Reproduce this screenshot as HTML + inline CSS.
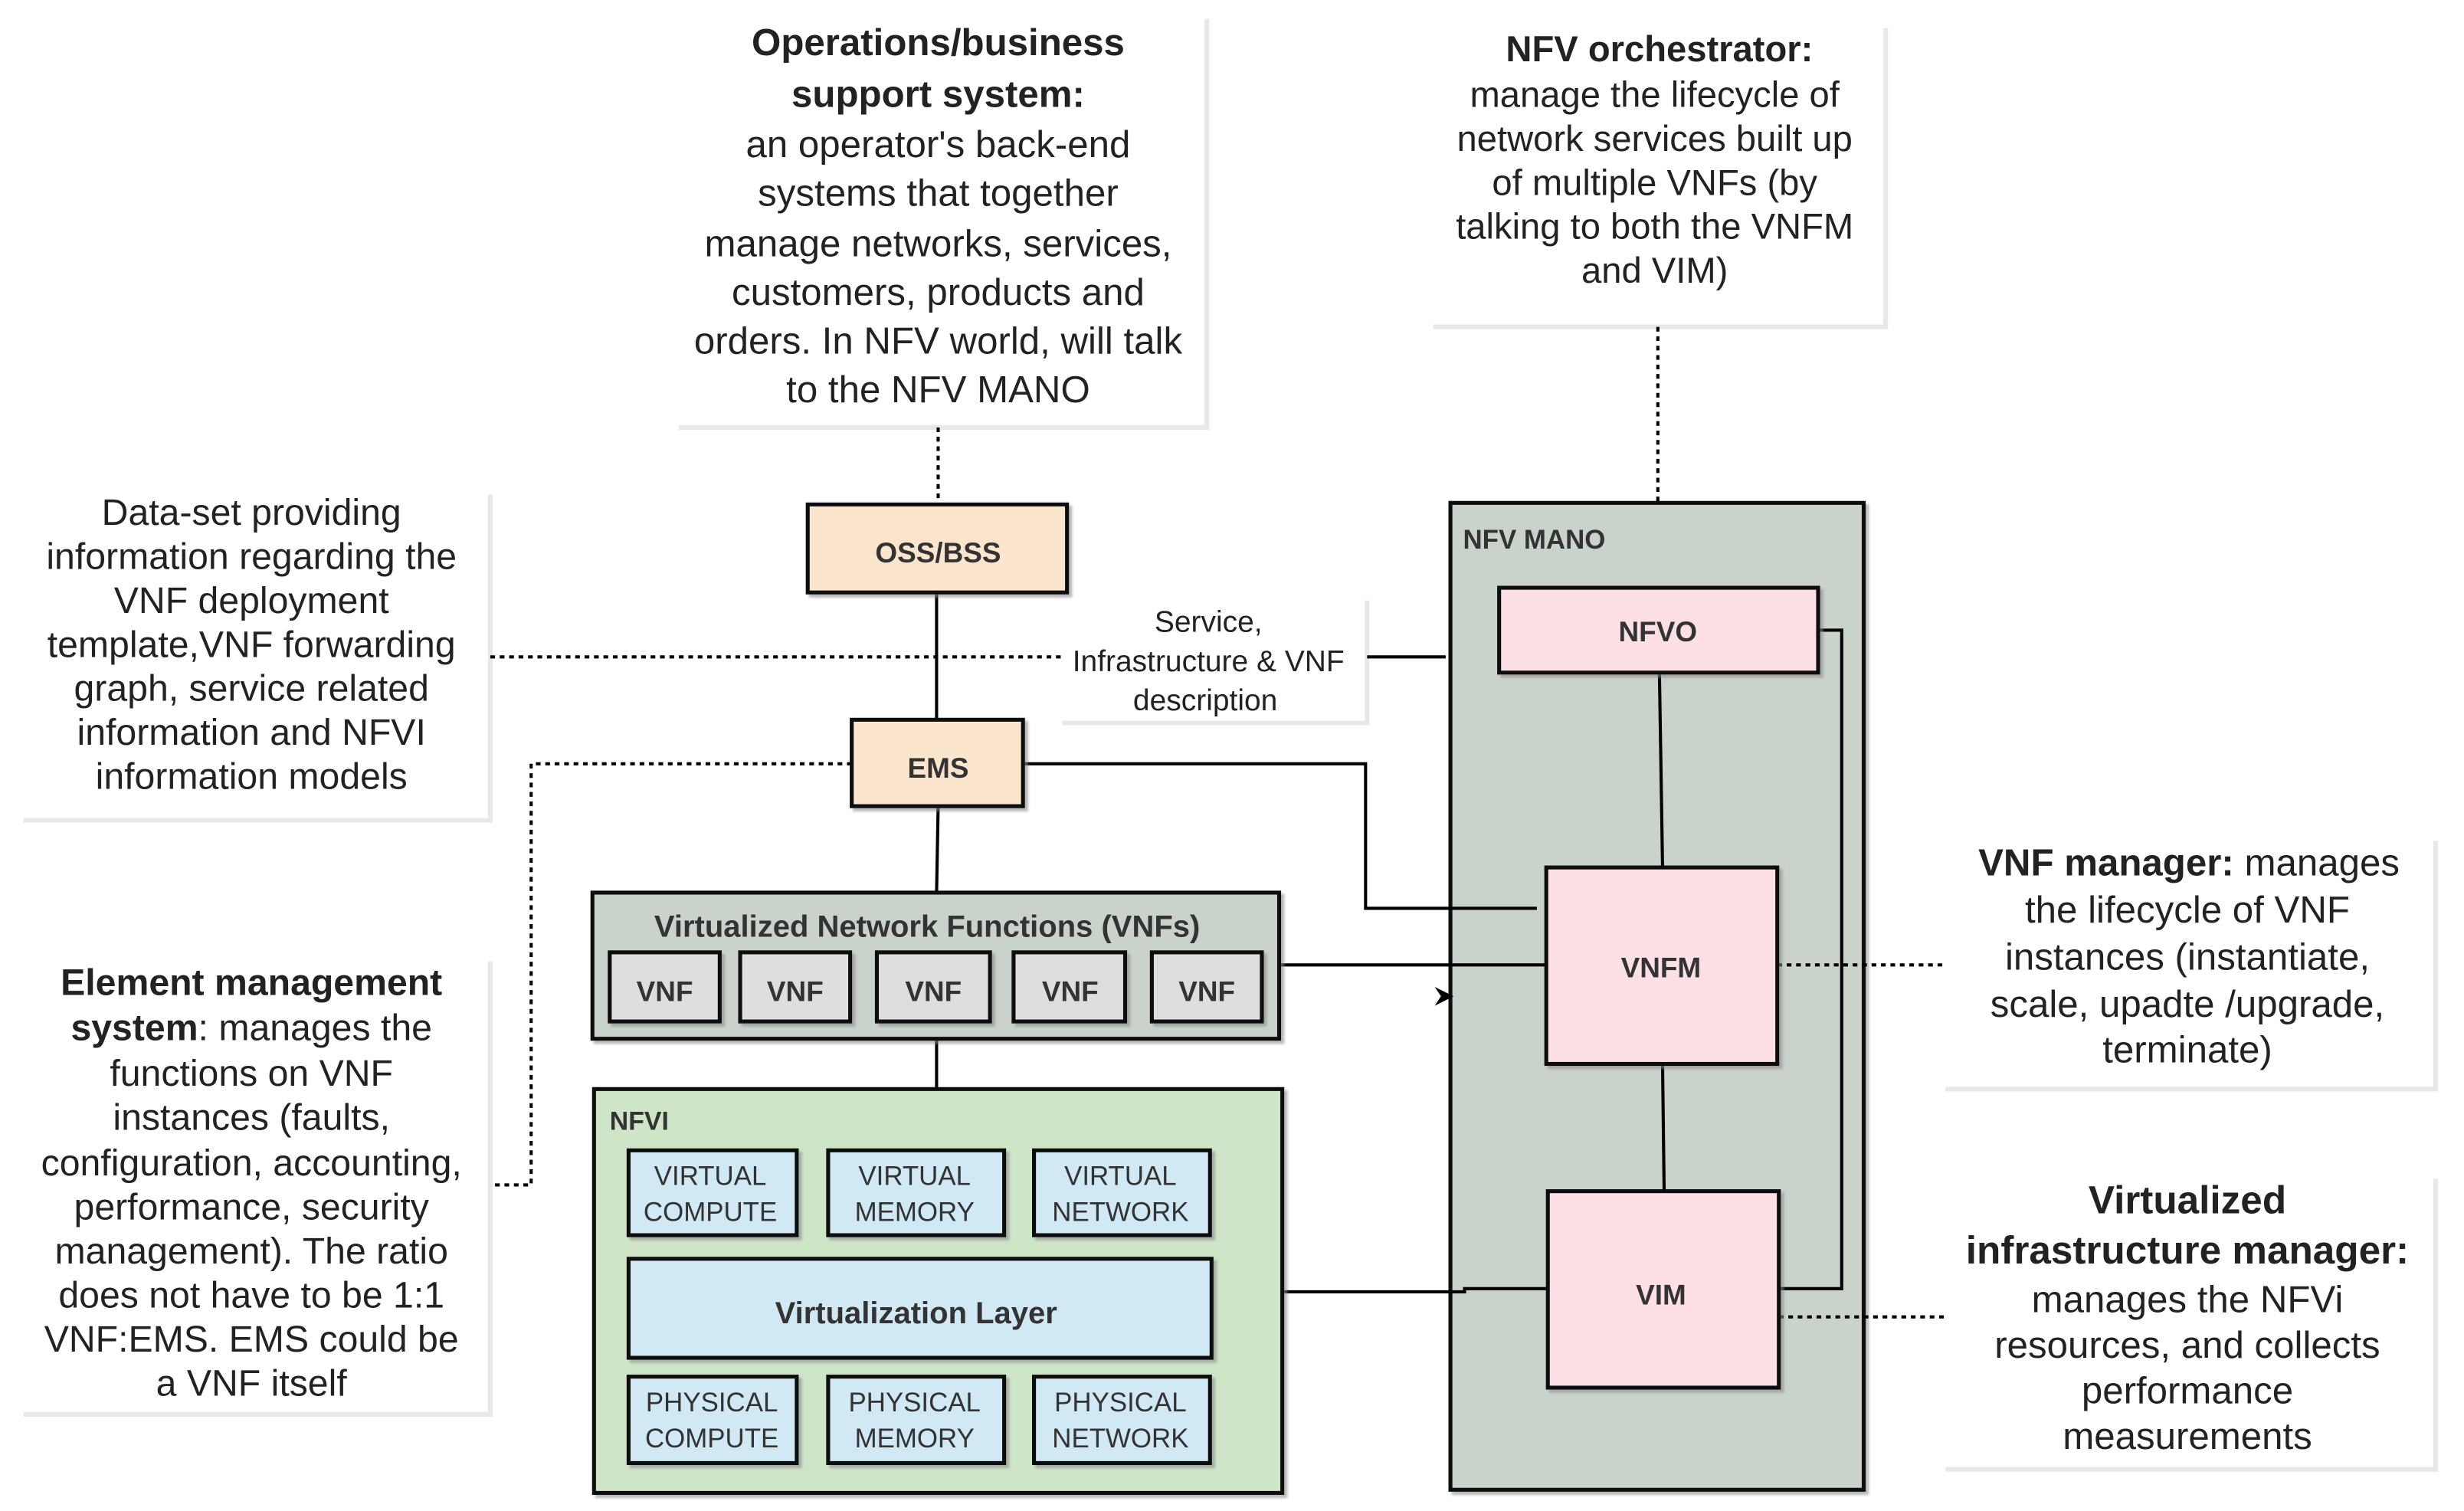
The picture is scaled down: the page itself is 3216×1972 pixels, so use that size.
<!DOCTYPE html>
<html><head><meta charset="utf-8"><style>html,body{margin:0;padding:0;background:#fff}svg{display:block}</style></head>
<body>
<svg xmlns="http://www.w3.org/2000/svg" width="3216" height="1972" viewBox="0 0 1568 961.5" font-family="'Liberation Sans', Arial, sans-serif" fill="#222">
<defs>
<filter id="sh" x="-5%" y="-5%" width="115%" height="115%"><feDropShadow dx="2" dy="2" stdDeviation="0.8" flood-color="#888" flood-opacity="0.6"/></filter>
</defs>
<g fill="none" stroke="#e8e8e8" stroke-width="3">
<path d="M768 12 V272 H432"/><path d="M1200 18 V208 H912"/><path d="M312 315 V522 H15"/>
<path d="M312 612 V900 H15"/><path d="M1550 535 V693 H1238"/><path d="M1550 750 V935 H1238"/><path d="M870 382 V460 H676"/>
</g>
<rect x="923" y="320" width="263" height="628" fill="#c9d3cc" stroke="#111" stroke-width="2.5" filter="url(#sh)"/>
<g fill="none" stroke="#000" stroke-width="2" stroke-dasharray="3,3">
<path d="M597 272 V321"/><path d="M312 418 H676"/><path d="M542 486 H338 V754 H312"/>
<path d="M1055 208 V320"/><path d="M1131 614 H1238"/><path d="M1132 838 H1238"/>
</g>
<g fill="none" stroke="#000" stroke-width="2">
<path d="M596 377 V458"/><path d="M870 418 H920"/><path d="M651 486 H869 V578 H978"/>
<path d="M597 513 L596 568"/><path d="M814 614 H984"/><path d="M596 661 V693"/>
<path d="M816 822 H932 V820 H985"/><path d="M1056 428 L1058 552"/><path d="M1058 677 L1059 758"/>
<path d="M1157 401 H1172 V820 H1132"/>
</g>
<path d="M913 628 L925 634 L913 640 L917 634 Z" fill="#000"/>
<g stroke="#111" stroke-width="2.5" filter="url(#sh)">
<rect x="514" y="321" width="165" height="56" fill="#fce5cd"/>
<rect x="542" y="458" width="109" height="55" fill="#fce5cd"/>
<rect x="377" y="568" width="437" height="93" fill="#c9d3cc"/>
<rect x="378" y="693" width="438" height="257" fill="#cfe5c8"/>
<rect x="954" y="374" width="203" height="54" fill="#fde0e6"/>
<rect x="984" y="552" width="147" height="125" fill="#fde0e6"/>
<rect x="985" y="758" width="147" height="125" fill="#fde0e6"/>
</g>
<g stroke="#111" stroke-width="2.5" fill="#dedede" filter="url(#sh)">
<rect x="388" y="606" width="70" height="44"/><rect x="471" y="606" width="70" height="44"/>
<rect x="558" y="606" width="72" height="44"/><rect x="645" y="606" width="71" height="44"/>
<rect x="733" y="606" width="70" height="44"/>
</g>
<g stroke="#111" stroke-width="2.5" fill="#d0e9f4" filter="url(#sh)">
<rect x="400" y="732" width="107" height="54"/><rect x="527" y="732" width="112" height="54"/><rect x="658" y="732" width="112" height="54"/>
<rect x="400" y="801" width="371" height="63"/>
<rect x="400" y="876" width="107" height="55"/><rect x="527" y="876" width="112" height="55"/><rect x="658" y="876" width="112" height="55"/>
</g>
<g font-weight="bold" fill="#333" text-anchor="middle" font-size="18">
<text x="597" y="358">OSS/BSS</text><text x="597" y="495">EMS</text>
<text x="590" y="596" font-size="19.5">Virtualized Network Functions (VNFs)</text>
<text x="423" y="637">VNF</text><text x="506" y="637">VNF</text><text x="594" y="637">VNF</text><text x="681" y="637">VNF</text><text x="768" y="637">VNF</text>
<text x="1055" y="408">NFVO</text><text x="1057" y="622">VNFM</text><text x="1057" y="830">VIM</text>
<text x="583" y="842" font-size="19.5">Virtualization Layer</text>
<text x="388" y="719" text-anchor="start" font-size="16.5">NFVI</text>
<text x="931" y="349" text-anchor="start" font-size="17">NFV MANO</text>
</g>
<g fill="#333" text-anchor="middle" font-size="17">
<text x="452" y="754">VIRTUAL</text><text x="452" y="777">COMPUTE</text>
<text x="582" y="754">VIRTUAL</text><text x="582" y="777">MEMORY</text>
<text x="713" y="754">VIRTUAL</text><text x="713" y="777">NETWORK</text>
<text x="453" y="898">PHYSICAL</text><text x="453" y="921">COMPUTE</text>
<text x="582" y="898">PHYSICAL</text><text x="582" y="921">MEMORY</text>
<text x="713" y="898">PHYSICAL</text><text x="713" y="921">NETWORK</text>
</g>
<g text-anchor="middle" font-size="19" fill="#222">
<text x="769" y="402">Service,</text><text x="769" y="427">Infrastructure &amp; VNF</text><text x="767" y="452">description</text>
</g>
<g text-anchor="middle" font-size="24" fill="#222">
<text x="597" y="35" font-weight="bold">Operations/business</text>
<text x="597" y="68" font-weight="bold">support system:</text>
<text x="597" y="100">an operator's back-end</text>
<text x="597" y="131">systems that together</text>
<text x="597" y="163">manage networks, services,</text>
<text x="597" y="194">customers, products and</text>
<text x="597" y="225">orders. In NFV world, will talk</text>
<text x="597" y="256">to the NFV MANO</text>
</g>
<g text-anchor="middle" font-size="23" fill="#222">
<text x="1056" y="39" font-weight="bold">NFV orchestrator:</text>
<text x="1053" y="68">manage the lifecycle of</text>
<text x="1053" y="96">network services built up</text>
<text x="1053" y="124">of multiple VNFs (by</text>
<text x="1053" y="152">talking to both the VNFM</text>
<text x="1053" y="180">and VIM)</text>
</g>
<g text-anchor="middle" font-size="23.5" fill="#222">
<text x="160" y="334">Data-set providing</text>
<text x="160" y="362">information regarding the</text>
<text x="160" y="390">VNF deployment</text>
<text x="160" y="418">template,VNF forwarding</text>
<text x="160" y="446">graph, service related</text>
<text x="160" y="474">information and NFVI</text>
<text x="160" y="502">information models</text>
</g>
<g text-anchor="middle" font-size="23.5" fill="#222">
<text x="160" y="633" font-weight="bold">Element management</text>
<text x="160" y="662"><tspan font-weight="bold">system</tspan>: manages the</text>
<text x="160" y="691">functions on VNF</text>
<text x="160" y="719">instances (faults,</text>
<text x="160" y="748">configuration, accounting,</text>
<text x="160" y="776">performance, security</text>
<text x="160" y="804">management). The ratio</text>
<text x="160" y="832">does not have to be 1:1</text>
<text x="160" y="860">VNF:EMS. EMS could be</text>
<text x="160" y="888">a VNF itself</text>
</g>
<g text-anchor="middle" font-size="24" fill="#222">
<text x="1393" y="557"><tspan font-weight="bold">VNF manager:</tspan> manages</text>
<text x="1392" y="587">the lifecycle of VNF</text>
<text x="1392" y="617">instances (instantiate,</text>
<text x="1392" y="647">scale, upadte /upgrade,</text>
<text x="1392" y="676">terminate)</text>
<text x="1392" y="772" font-weight="bold" font-size="25">Virtualized</text>
<text x="1392" y="804" font-weight="bold" font-size="25">infrastructure manager:</text>
<text x="1392" y="835">manages the NFVi</text>
<text x="1392" y="864">resources, and collects</text>
<text x="1392" y="893">performance</text>
<text x="1392" y="922">measurements</text>
</g>
</svg>
</body></html>
